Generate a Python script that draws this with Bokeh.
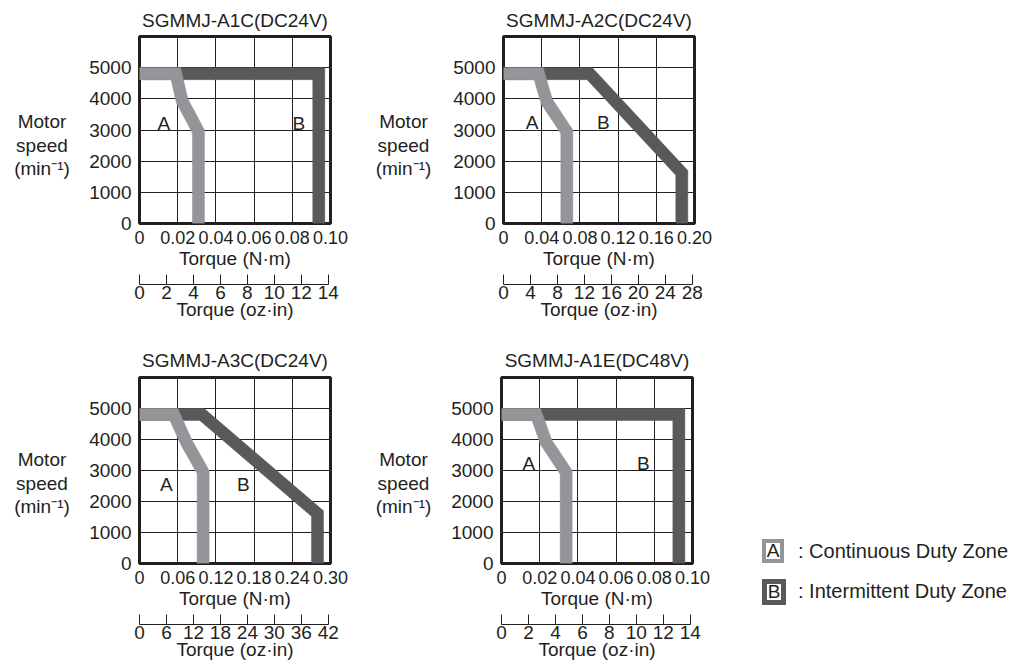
import math
from bokeh.plotting import figure
from bokeh.models import Range1d, LinearAxis, FixedTicker, Label, Div
from bokeh.layouts import row, column
from bokeh.embed import file_html
from bokeh.resources import INLINE

FONT = "Liberation Sans"
TXT = "#231f20"
COL_A = "#939598"
COL_B = "#58595b"

# ---------------- data ----------------
titles = ["SGMMJ-A1C(DC24V)", "SGMMJ-A2C(DC24V)", "SGMMJ-A3C(DC24V)", "SGMMJ-A1E(DC48V)"]
y_label_lines = ["Motor", "speed", "(min⁻¹)"]
speed_ticks = [0, 1000, 2000, 3000, 4000, 5000]
speed_grid = [0, 1000, 2000, 3000, 4000, 5000, 6000]
speed_max = 6000
nm_tick_labels = [
    ["0", "0.02", "0.04", "0.06", "0.08", "0.10"],
    ["0", "0.04", "0.08", "0.12", "0.16", "0.20"],
    ["0", "0.06", "0.12", "0.18", "0.24", "0.30"],
    ["0", "0.02", "0.04", "0.06", "0.08", "0.10"],
]
ozin_ticks = [
    [0, 2, 4, 6, 8, 10, 12, 14],
    [0, 4, 8, 12, 16, 20, 24, 28],
    [0, 6, 12, 18, 24, 30, 36, 42],
    [0, 2, 4, 6, 8, 10, 12, 14],
]
NM_TO_OZIN = 141.612

# Zone A (continuous duty) boundary: torque N*m, speed min-1
a_torque = [
    [0, 0.0215, 0.0253, 0.034, 0.034],
    [0, 0.0415, 0.051, 0.0726, 0.0726],
    [0, 0.060, 0.082, 0.1094, 0.1094],
    [0, 0.0204, 0.0262, 0.037, 0.037],
]
a_speed = [
    [5000, 5000, 4000, 3000, 0],
    [5000, 5000, 4000, 3000, 0],
    [5000, 5000, 4000, 3000, 0],
    [5000, 5000, 4000, 3000, 0],
]
# Zone B (intermittent duty) boundary
b_torque = [
    [0, 0.097, 0.097],
    [0, 0.093, 0.193, 0.193],
    [0, 0.1016, 0.289, 0.289],
    [0, 0.096, 0.096],
]
b_speed = [
    [5000, 5000, 0],
    [5000, 5000, 1700, 0],
    [5000, 5000, 1700, 0],
    [5000, 5000, 0],
]
label_a_pos = [(0.0127, 3220), (0.030, 3250), (0.042, 2550), (0.0143, 3230)]
label_b_pos = [(0.0834, 3220), (0.1046, 3250), (0.163, 2550), (0.0742, 3230)]

legend_letters = ["A", "B"]
legend_texts = [": Continuous Duty Zone", ": Intermittent Duty Zone"]
legend_colors = [COL_A, COL_B]

# ---------------- layout / style ----------------
FW = 191
BAND_PX = 12


def band_polygon(tq, sp, xmax, ymax, fw, fh, w):
    kx = fw / xmax
    ky = fh / ymax
    pts = [(t * kx, s * ky) for t, s in zip(tq, sp)]
    n = len(pts)
    normals = []
    for i in range(n - 1):
        dx = pts[i + 1][0] - pts[i][0]
        dy = pts[i + 1][1] - pts[i][1]
        L = math.hypot(dx, dy)
        normals.append((dy / L, -dx / L))
    inner = []
    for i in range(n):
        if i == 0:
            nx, ny = normals[0]
        elif i == n - 1:
            nx, ny = normals[-1]
        else:
            a = normals[i - 1]
            b = normals[i]
            dot = a[0] * b[0] + a[1] * b[1]
            nx = (a[0] + b[0]) / (1 + dot)
            ny = (a[1] + b[1]) / (1 + dot)
        inner.append((pts[i][0] + w * nx, pts[i][1] + w * ny))
    poly = pts + inner[::-1]
    return [x / kx for x, _ in poly], [y / ky for _, y in poly]


def lab(p, x, y, text, size="19px", align="center"):
    l = Label(x=x, y=y, text=text, text_align=align,
              text_baseline="middle", text_font=FONT, text_font_size=size,
              text_color=TXT)
    p.add_layout(l)
    return l


def ylabel_strip(w, h, frame_top, frame_bottom, cx, y0):
    # the strip's frame is aligned with the neighbouring panel frame,
    # so its y range is expressed in page pixels (top-down)
    f = figure(width=w, height=h, x_range=Range1d(0, w),
               y_range=Range1d(frame_bottom, frame_top),
               output_backend="svg", toolbar_location=None, min_border=0,
               x_axis_location=None, y_axis_location=None)
    f.outline_line_color = None
    f.grid.visible = False
    f.background_fill_color = "white"
    f.border_fill_color = "white"
    for k, t in enumerate(y_label_lines):
        lab(f, cx, y0 + k * 23.5, t)
    return f


def make_panel(i, bl, bt, bb, br, fh, title_valign):
    xmax = float(nm_tick_labels[i][-1])
    xticks = [float(s) for s in nm_tick_labels[i]]
    p = figure(frame_width=FW, frame_height=fh,
               x_range=Range1d(0, xmax), y_range=Range1d(0, speed_max),
               output_backend="svg", toolbar_location=None,
               min_border_left=bl, min_border_top=bt, min_border_bottom=bb,
               min_border_right=br)
    p.background_fill_color = "white"
    p.border_fill_color = "white"
    p.outline_line_color = TXT
    p.outline_line_width = 3

    p.title.text = titles[i]
    p.title.align = "center"
    p.title.vertical_align = title_valign
    p.title.text_font = FONT
    p.title.text_font_size = "19px"
    p.title.text_font_style = "normal"
    p.title.text_color = TXT
    p.title.standoff = 9

    p.xgrid.ticker = FixedTicker(ticks=xticks)
    p.ygrid.ticker = FixedTicker(ticks=speed_grid)
    for g in (p.xgrid, p.ygrid):
        g.grid_line_color = TXT
        g.grid_line_width = 1

    # primary x axis (N*m)
    ax = p.below[0]
    ax.ticker = FixedTicker(ticks=xticks)
    ax.major_label_overrides = {t: s for t, s in zip(xticks, nm_tick_labels[i])}
    ax.axis_line_color = None
    ax.major_tick_in = 0
    ax.major_tick_out = 0
    ax.minor_tick_in = 0
    ax.minor_tick_out = 0
    ax.major_label_standoff = 7
    ax.major_label_text_font = FONT
    ax.major_label_text_font_size = "18px"
    ax.major_label_text_color = TXT
    ax.axis_label = "Torque (N·m)"
    ax.axis_label_standoff = 1
    ax.axis_label_text_font = FONT
    ax.axis_label_text_font_size = "19px"
    ax.axis_label_text_font_style = "normal"
    ax.axis_label_text_color = TXT

    # y axis
    ay = p.left[0]
    ay.ticker = FixedTicker(ticks=speed_ticks)
    ay.axis_line_color = None
    ay.major_tick_in = 0
    ay.major_tick_out = 0
    ay.minor_tick_in = 0
    ay.minor_tick_out = 0
    ay.major_label_standoff = 8
    ay.major_label_text_font = FONT
    ay.major_label_text_font_size = "19px"
    ay.major_label_text_color = TXT

    # spacer between the two torque axes
    sp = LinearAxis(ticker=FixedTicker(ticks=[]), axis_line_color=None,
                    major_tick_in=0, major_tick_out=0, minor_tick_in=0, minor_tick_out=0,
                    major_label_standoff=0, axis_label=" ",
                    axis_label_text_font_size="1px", axis_label_standoff=9)
    p.add_layout(sp, "below")

    # secondary x axis (oz*in)
    oz = ozin_ticks[i]
    p.extra_x_ranges = {"oz": Range1d(0, xmax * NM_TO_OZIN)}
    ax2 = LinearAxis(x_range_name="oz", ticker=FixedTicker(ticks=oz), bounds=(0, oz[-1]),
                     major_tick_in=10, major_tick_out=0, minor_tick_in=0, minor_tick_out=0,
                     axis_line_color=TXT, axis_line_width=1,
                     major_tick_line_color=TXT, major_tick_line_width=1,
                     major_label_standoff=1, major_label_text_font=FONT,
                     major_label_text_font_size="19px", major_label_text_color=TXT,
                     axis_label="Torque (oz·in)", axis_label_standoff=-3,
                     axis_label_text_font=FONT, axis_label_text_font_size="19px",
                     axis_label_text_font_style="normal", axis_label_text_color=TXT)
    p.add_layout(ax2, "below")

    # zones
    bx, by = band_polygon(b_torque[i], b_speed[i], xmax, speed_max, FW, fh, BAND_PX)
    p.patch(bx, by, fill_color=COL_B, line_color=COL_B, line_width=0.5)
    axs, ays = band_polygon(a_torque[i], a_speed[i], xmax, speed_max, FW, fh, BAND_PX)
    p.patch(axs, ays, fill_color=COL_A, line_color=COL_A, line_width=0.5)

    lab(p, label_a_pos[i][0], label_a_pos[i][1], "A")
    lab(p, label_b_pos[i][0], label_b_pos[i][1], "B")
    return p


H1 = 345
H2 = 321

yl1 = ylabel_strip(86, H1, 36, 223, 41.5, 121)
p1 = make_panel(0, 53, 36, 122, 30, 187, "middle")
yl2 = ylabel_strip(90, H1, 36, 223, 43, 121)
p2 = make_panel(1, 53, 36, 122, 19, 187, "middle")

yl3 = ylabel_strip(86, H2, 377, 563, 41.5, 459)
p3 = make_panel(2, 53, 31, 103, 30, 186, "top")
yl4 = ylabel_strip(88, H2, 377, 563, 43, 459)
p4 = make_panel(3, 53, 31, 103, 20, 186, "top")

# legend (placed at page x = 712, y = 345)
items = []
for k in range(len(legend_letters)):
    top = 189 + k * 40
    items.append(
        f'<div style="position:absolute;left:45px;top:{top}px;width:14px;height:16px;'
        f'border:{4 + k}px solid {legend_colors[k]};background:#fff;'
        f'font-size:19px;line-height:16px;text-align:center;color:{TXT};'
        f'box-sizing:content-box;">{legend_letters[k]}</div>'
        f'<div style="position:absolute;left:81px;top:{top}px;height:24px;'
        f'font-size:20px;line-height:24px;white-space:nowrap;color:{TXT};">'
        f'{legend_texts[k]}</div>'
    )
legend_html = (f'<div style="position:relative;width:301px;height:{H2}px;'
               f'font-family:\'{FONT}\', Arial, sans-serif;">' + "".join(items) + '</div>')
lg = Div(text=legend_html, width=301, height=H2)

layout = column(row(yl1, p1, yl2, p2), row(yl3, p3, yl4, p4, lg))
open("out.html", "w").write(file_html(layout, INLINE))
